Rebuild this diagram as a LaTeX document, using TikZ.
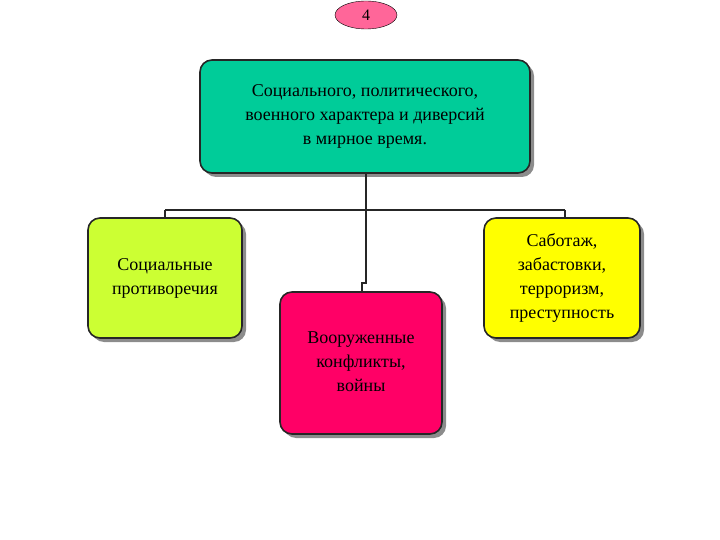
\documentclass[tikz,border=0pt]{standalone}
\usepackage{fontspec}
\setmainfont{Liberation Serif}
\usetikzlibrary{shapes.geometric}
\begin{document}
\begin{tikzpicture}[x=1pt,y=-1pt,
 box/.style={draw=black!85,line width=1.6pt,rounded corners=12pt,align=center,inner sep=0pt,font=\fontsize{18}{24}\selectfont},
 sh/.style={fill=black!45,rounded corners=12pt},
 ln/.style={line width=2.2pt,draw=black!85}]
\useasboundingbox (0,0) rectangle (720,540);
\fill[sh] (204,64) rectangle (534,177);
\fill[sh] (92,222) rectangle (246,342);
\fill[sh] (284,296) rectangle (446,438);
\fill[sh] (488,222) rectangle (644,342);
\node[ellipse,draw,fill={rgb,255:red,255;green,102;blue,153},minimum width=62pt,minimum height=28pt,font=\fontsize{16}{18}\selectfont] (n4) at (366,15) {4};
\node[box,fill={rgb,255:red,0;green,204;blue,153},minimum width=330pt,minimum height=113pt] (m) at (365,116.5) {Социального, политического,\\военного характера и диверсий\\в мирное время.};
\node[box,fill={rgb,255:red,204;green,255;blue,51},minimum width=154pt,minimum height=120pt] (l) at (165,278) {\raisebox{20pt}{\begin{tabular}{c}Социальные\\противоречия\end{tabular}}};
\node[box,fill={rgb,255:red,255;green,0;blue,102},minimum width=162pt,minimum height=142pt] (c) at (361,363) {\raisebox{12pt}{\begin{tabular}{c}Вооруженные\\конфликты,\\войны\end{tabular}}};
\node[box,fill={rgb,255:red,255;green,255;blue,0},minimum width=156pt,minimum height=120pt] (r) at (562,278) {Саботаж,\\забастовки,\\терроризм,\\преступность};
\coordinate (j) at (366,210);
\draw[ln] (m.south -| j) -- (j);
\draw[ln] (165,210) -- (565,210);
\draw[ln] (165,210) -- (l.north -| 165,0);
\draw[ln] (565,210) -- (r.north -| 565,0);
\draw[ln] (j) -- (366,283) -- (362,283) -- (c.north -| 362,0);
\end{tikzpicture}
\end{document}
